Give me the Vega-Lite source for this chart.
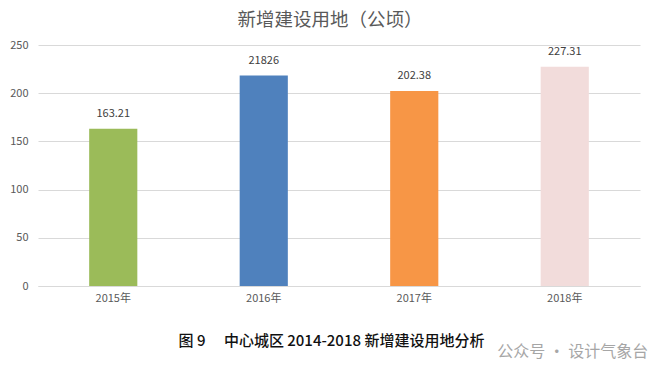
{
  "$schema": "https://vega.github.io/schema/vega-lite/v6.json",
  "width": 602,
  "height": 241,
  "autosize": {"type": "none"},
  "padding": {"left": 38, "top": 45, "right": 30, "bottom": 97},
  "background": "white",
  "config": {"view": {"stroke": null}, "font": "Noto Sans CJK SC"},
  "title": {
    "text": "新增建设用地（公顷）",
    "fontSize": 18.5,
    "fontWeight": "normal",
    "color": "#595959",
    "font": "Noto Sans CJK SC",
    "offset": 10,
    "dx": -9,
    "anchor": "middle"
  },
  "data": {
    "values": [
      {"year": "2015年", "value": 163.21, "label": "163.21", "color": "#9BBB59"},
      {"year": "2016年", "value": 218.26, "label": "21826", "color": "#4F81BD"},
      {"year": "2017年", "value": 202.38, "label": "202.38", "color": "#F79646"},
      {"year": "2018年", "value": 227.31, "label": "227.31", "color": "#F2DCDB"}
    ]
  },
  "encoding": {
    "x": {
      "field": "year",
      "type": "nominal",
      "sort": null,
      "scale": {"paddingInner": 0.68, "paddingOuter": 0.34},
      "axis": {
        "title": "图  9　 中心城区 2014-2018 新增建设用地分析",
        "titleFontSize": 15,
        "titleFontWeight": 500,
        "titleColor": "#111111",
        "titlePadding": 30,
        "titleX": 293,
        "labelAngle": 0,
        "labelFontSize": 11,
        "labelColor": "#595959",
        "labelPadding": 6,
        "ticks": false,
        "domainColor": "#D9D9D9",
        "domainWidth": 1
      }
    },
    "y": {
      "field": "value",
      "type": "quantitative",
      "scale": {"domain": [0, 250], "nice": false},
      "axis": {
        "title": null,
        "values": [0, 50, 100, 150, 200, 250],
        "labelFontSize": 11,
        "labelColor": "#595959",
        "labelPadding": 10,
        "ticks": false,
        "domain": false,
        "gridColor": "#D9D9D9"
      }
    }
  },
  "layer": [
    {
      "mark": {"type": "bar"},
      "encoding": {
        "color": {"field": "color", "type": "nominal", "scale": null, "legend": null}
      }
    },
    {
      "mark": {"type": "text", "dy": -15, "fontSize": 11, "color": "#404040"},
      "encoding": {"text": {"field": "label"}}
    },
    {
      "data": {"values": [{"year": "2018年", "value": -68, "wm": "公众号 · 设计气象台"}]},
      "mark": {"type": "text", "fontSize": 16, "color": "#A6A6A6", "dx": 8, "clip": false},
      "encoding": {"text": {"field": "wm"}}
    }
  ]
}
